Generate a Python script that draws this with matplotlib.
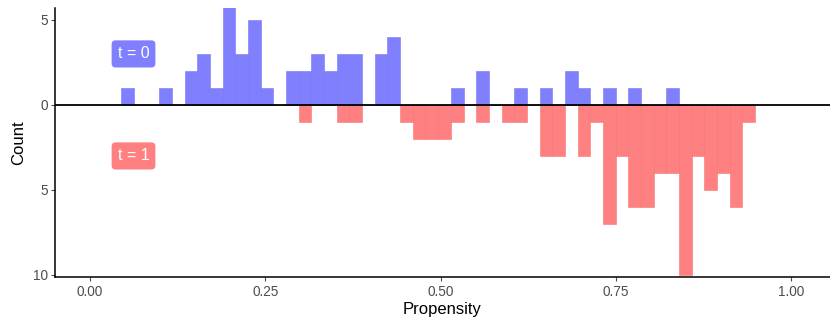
import numpy as np
import matplotlib
matplotlib.use("Agg")
import matplotlib.pyplot as plt

plt.rcParams['font.family'] = ['Liberation Sans', 'DejaVu Sans']

# histogram bins (propensity), 50 bins
bin_lo = 0.0445
bin_hi = 0.9488
n_bins = 50

# counts per bin for the control group (t = 0), drawn upwards
control_counts = [1, 0, 0, 1, 0, 2, 3, 1, 6, 3,
                  5, 1, 0, 2, 2, 3, 2, 3, 3, 0,
                  3, 4, 0, 0, 0, 0, 1, 0, 2, 0,
                  0, 1, 0, 1, 0, 2, 1, 0, 1, 0,
                  1, 0, 0, 1, 0, 0, 0, 0, 0, 0]

# counts per bin for the treated group (t = 1), drawn downwards
treated_counts = [0, 0, 0, 0, 0, 0, 0, 0, 0, 0,
                  0, 0, 0, 0, 1, 0, 0, 1, 1, 0,
                  0, 0, 1, 2, 2, 2, 1, 0, 1, 0,
                  1, 1, 0, 3, 3, 0, 3, 1, 7, 3,
                  6, 6, 4, 4, 10, 3, 5, 4, 6, 1]

x_ticks = [0.00, 0.25, 0.50, 0.75, 1.00]
x_tick_labels = ["0.00", "0.25", "0.50", "0.75", "1.00"]
y_ticks = [5, 0, -5, -10]
y_tick_labels = ["5", "0", "5", "10"]
labels = ["t = 0", "t = 1"]

blue = "#8080FF"
red = "#FF8080"

edges = np.linspace(bin_lo, bin_hi, n_bins + 1)
width = edges[1] - edges[0]

fig = plt.figure(figsize=(8.30, 3.31), dpi=100)
ax = fig.add_axes([55 / 830, 1 - 277 / 331, 775 / 830, 269 / 331])

ax.bar(edges[:-1], control_counts, width=width, align='edge',
       color=blue, edgecolor="#7676f0", linewidth=0.4, zorder=2)
ax.bar(edges[:-1], -np.array(treated_counts), width=width, align='edge',
       color=red, edgecolor="#f07676", linewidth=0.4, zorder=2)

ax.axhline(0, color="black", linewidth=1.3, zorder=3)

ax.set_xlim(-0.05, 1.0557)
ax.set_ylim(-10.12, 5.7)

ax.set_xticks(x_ticks)
ax.set_xticklabels(x_tick_labels)
ax.set_yticks(y_ticks)
ax.set_yticklabels(y_tick_labels)

for s in ["top", "right"]:
    ax.spines[s].set_visible(False)
for s in ["left", "bottom"]:
    ax.spines[s].set_linewidth(1.1)
    ax.spines[s].set_color("black")

ax.tick_params(axis='both', colors="#4D4D4D", labelsize=9.8, length=3, width=0.8)
ax.tick_params(axis='x', pad=3)
ax.tick_params(axis='y', pad=2)

ax.set_xlabel("Propensity", fontsize=12, color="black", labelpad=2)
ax.set_ylabel("Count", fontsize=12, color="black", labelpad=5)

ax.text(0.062, 3.0, labels[0], color="white", fontsize=11.5, ha="center", va="center",
        bbox=dict(boxstyle="round,pad=0.38,rounding_size=0.25", facecolor=blue, edgecolor="none"),
        zorder=4)
ax.text(0.062, -3.0, labels[1], color="white", fontsize=11.5, ha="center", va="center",
        bbox=dict(boxstyle="round,pad=0.38,rounding_size=0.25", facecolor=red, edgecolor="none"),
        zorder=4)

fig.savefig("out.png", dpi=100)
